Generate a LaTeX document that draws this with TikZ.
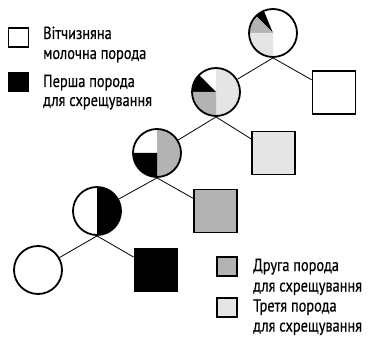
\documentclass[tikz,border=0pt]{standalone}
\usepackage{fontspec}
\setmainfont[FakeStretch=0.82,FakeBold=0.4]{PT Sans}
\definecolor{gmid}{HTML}{B3B3B3}
\definecolor{glight}{HTML}{E5E5E5}
\newcommand{\wedgefill}[3]{\fill[#1] (path picture bounding box.center) -- ++(#2:30pt) arc[start angle=#2,end angle=#3,radius=30pt] -- cycle;}
\begin{document}
\begin{tikzpicture}[x=1pt,y=1pt,
  fem/.style={circle,draw,line width=1.8pt,minimum size=48pt,inner sep=0pt,fill=white},
  mal/.style={rectangle,draw,line width=1.8pt,minimum size=43pt,inner sep=0pt},
  leg/.style={rectangle,draw,line width=1.1pt,minimum width=20pt,minimum height=19pt,inner sep=0pt},
  lab/.style={anchor=base west,inner sep=0pt,font=\fontsize{17.5}{20}\selectfont},
  link/.style={line width=0.8pt}]
\useasboundingbox (0,0) rectangle (374,337);
% females
\node[fem] (c1) at (38,67) {};
\node[fem,path picture={\wedgefill{black}{-90}{90}}] (c2) at (97,126) {};
\node[fem,path picture={\wedgefill{gmid}{-90}{90}\wedgefill{black}{180}{270}}] (c3) at (157,184) {};
\node[fem,path picture={\wedgefill{glight}{-90}{90}\wedgefill{black}{135}{180}\wedgefill{gmid}{180}{270}}] (c4) at (216,245) {};
\node[fem,path picture={\wedgefill{black}{112.5}{135}\wedgefill{gmid}{135}{180}\wedgefill{glight}{180}{270}}] (c5) at (273,304) {};
% males
\node[mal,fill=black] (s1) at (156,67) {};
\node[mal,fill=gmid] (s2) at (215.5,126) {};
\node[mal,fill=glight] (s3) at (273.7,184) {};
\node[mal,fill=white] (s4) at (334,244.5) {};
% links
\draw[link] (c2.south) -- (c1);
\draw[link] (c2.south) -- (s1);
\draw[link] (c3.south) -- (c2);
\draw[link] (c3.south) -- (s2);
\draw[link] (c4.south) -- (c3);
\draw[link] (c4.south) -- (s3);
\draw[link] (c5.south) -- (c4);
\draw[link] (c5.south) -- (s4);
% legend
\node[leg,fill=white] (la) at (18.5,299.5) {};
\node[leg,fill=black] (lb) at (18.5,255) {};
\node[leg,fill=gmid] (lc) at (227,70.5) {};
\node[leg,fill=glight] (ld) at (227,29.5) {};
\node[lab] (ta1) at (43,298) {Вітчизняна};
\node[lab] (ta2) at (43,278) {молочна порода};
\node[lab] (tb1) at (43,250) {Перша порода};
\node[lab] (tb2) at (43,231) {для схрещування};
\node[lab] (tc1) at (253,66) {Друга порода};
\node[lab] (tc2) at (253,45.5) {для схрещування};
\node[lab] (td1) at (253,25.5) {Третя порода};
\node[lab] (td2) at (253,5.5) {для схрещування};
\end{tikzpicture}
\end{document}
